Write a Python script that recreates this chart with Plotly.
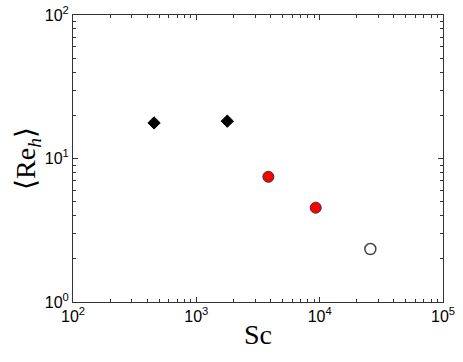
import plotly.graph_objects as go

# data
sc_diamond = [454, 1783]
re_diamond = [17.7, 18.2]

sc_red = [3838, 9290]
re_red = [7.46, 4.54]

sc_open = [25760]
re_open = [2.34]

x_major = [100, 1000, 10000, 100000]
x_labels = ['10<sup>2</sup>', '10<sup>3</sup>', '10<sup>4</sup>', '10<sup>5</sup>']
y_major = [1, 10, 100]
y_labels = ['10<sup>0</sup>', '10<sup>1</sup>', '10<sup>2</sup>']

x_minor = [m * d for d in [100, 1000, 10000] for m in range(2, 10)]
y_minor = [m * d for d in [1, 10] for m in range(2, 10)]

fig = go.Figure()
fig.add_trace(go.Scatter(x=sc_diamond, y=re_diamond, mode='markers',
                         marker=dict(symbol='diamond', size=9.5, color='black',
                                     line=dict(color='black', width=1))))
fig.add_trace(go.Scatter(x=sc_red, y=re_red, mode='markers',
                         marker=dict(symbol='circle', size=11, color='red',
                                     line=dict(color='#333333', width=1))))
fig.add_trace(go.Scatter(x=sc_open, y=re_open, mode='markers',
                         marker=dict(symbol='circle', size=11, color='white',
                                     line=dict(color='#444444', width=1.5))))

tick_font = dict(family='Liberation Sans, Arial', size=16, color='black')
title_font = dict(family='Liberation Serif, Times New Roman', size=28, color='black')

common = dict(type='log', showgrid=False, zeroline=False, automargin=False,
              ticks='inside', tickcolor='#333333', mirror='allticks')

fig.update_layout(
    width=463, height=362, showlegend=False,
    plot_bgcolor='white', paper_bgcolor='white',
    margin=dict(l=73, r=20, t=15, b=60),
    xaxis=dict(**common, range=[2, 5], tickvals=x_major, ticktext=x_labels, ticklen=5,
               showline=True, linecolor='#333333', linewidth=1, tickfont=tick_font,
               ticklabeloverflow='allow',
               title=dict(text='Sc', font=title_font, standoff=0)),
    yaxis=dict(**common, range=[0, 2], tickvals=y_major, ticktext=y_labels, ticklen=5,
               showline=True, linecolor='#333333', linewidth=1, tickfont=tick_font,
               ticklabeloverflow='allow',
               title=dict(text='⟨Re<sub><i>h</i></sub>⟩', font=title_font, standoff=0)),
    # minor ticks drawn on overlay axes
    xaxis2=dict(**common, range=[2, 5], overlaying='x', side='bottom', tickvals=x_minor,
                ticklen=3, showticklabels=False, showline=False),
    yaxis2=dict(**common, range=[0, 2], overlaying='y', side='left', tickvals=y_minor,
                ticklen=3, showticklabels=False, showline=False),
)
fig.add_trace(go.Scatter(x=[], y=[], xaxis='x2', yaxis='y2', showlegend=False))

# drop the default body margin so the figure fills the window
fig.write_html("out.html", config={'displayModeBar': False},
               post_script="document.body.style.margin = '0';")
